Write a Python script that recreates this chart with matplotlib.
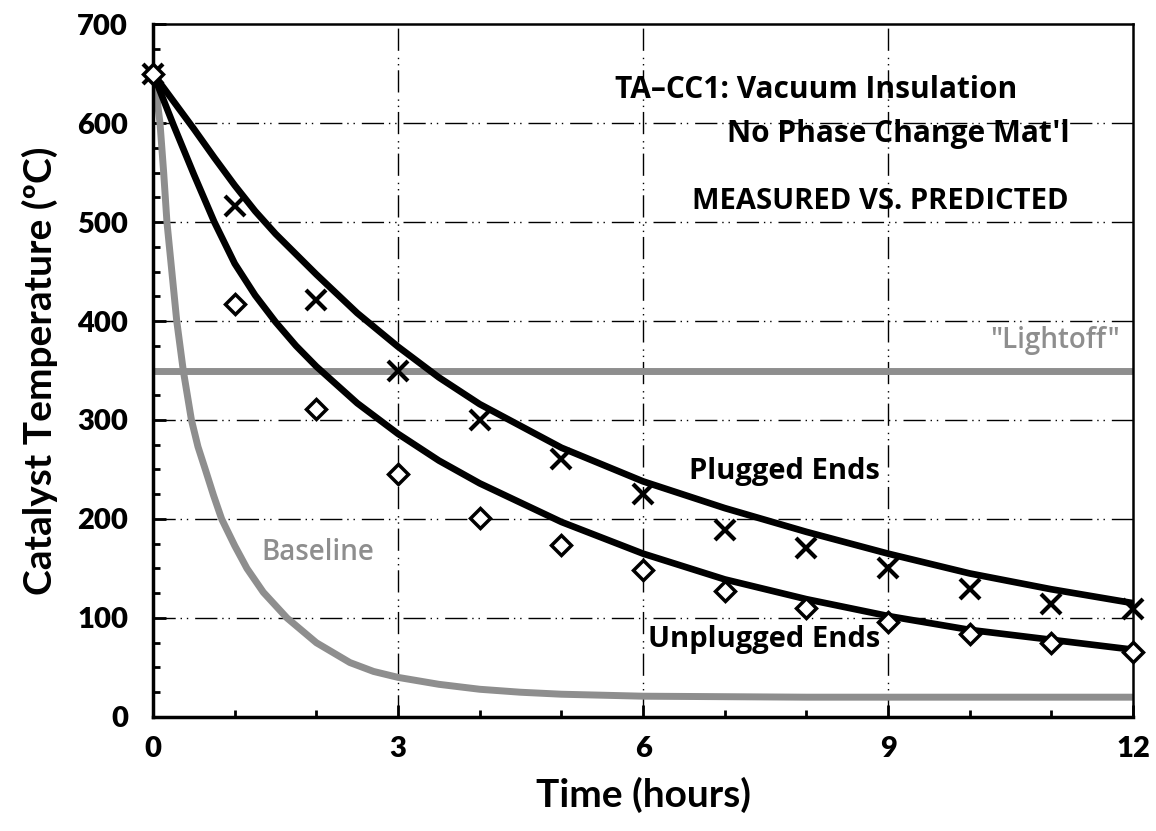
import matplotlib
matplotlib.use("Agg")
import matplotlib.pyplot as plt
from matplotlib.ticker import MultipleLocator

plt.rcParams['font.family'] = ['Lato', 'DejaVu Sans']

# measured points (hours, deg C)
hours = [0, 1, 2, 3, 4, 5, 6, 7, 8, 9, 10, 11, 12]
plugged_meas = [650, 516, 421, 350, 300, 261, 225, 189, 171, 151, 129, 114, 109]
unplugged_meas = [650, 417, 311, 245, 201, 174, 148, 127, 110, 96, 84, 75, 66]

# predicted curves
plug_t = [0, 0.25, 0.5, 0.75, 1, 1.25, 1.5, 2, 2.5, 3, 3.5, 4, 5, 6, 7, 8, 9, 10, 11, 12]
plug_pred = [650, 622, 594, 565, 537, 511, 488, 447, 408, 374, 343, 316, 272, 238, 211, 187, 165, 145, 129, 115]
unplug_t = [0, 0.25, 0.5, 0.75, 1, 1.25, 1.5, 1.75, 2, 2.5, 3, 3.5, 4, 5, 6, 7, 8, 9, 10, 11, 12]
unplug_pred = [650, 598, 548, 500, 458, 426, 399, 375, 354, 317, 286, 259, 236, 197, 165, 139, 119, 102, 88, 78, 68]
base_t = [0, 0.04, 0.085, 0.13, 0.17, 0.23, 0.29, 0.37, 0.47, 0.55, 0.64, 0.74, 0.84, 1.0, 1.15,
          1.35, 1.64, 2.0, 2.41, 2.7, 3.0, 3.5, 4, 4.5, 5, 6, 7, 8, 10, 12]
base_pred = [650, 630, 600, 550, 500, 450, 400, 350, 300, 273, 250, 224, 200, 173, 150,
             126, 100, 75, 55, 46, 40, 33, 28, 25, 23, 21, 20.5, 20, 20, 20]
lightoff = 350

gray = '#8e8e8e'
ann = ['Open Sans', 'DejaVu Sans']

fig = plt.figure(figsize=(11.56, 8.31), dpi=100)
ax = fig.add_axes([0.1324, 0.1372, 0.8478, 0.8339])

dash = (0, (16, 3.5, 1, 3.5, 1, 5))
for y in [100, 200, 300, 400, 500, 600]:
    ax.axhline(y, color='black', lw=1.0, linestyle=dash, zorder=1)
for x in [3, 6, 9]:
    ax.axvline(x, color='black', lw=1.0, linestyle=dash, zorder=1)

ax.axhline(lightoff, color=gray, lw=5, zorder=2)
ax.plot(base_t, base_pred, color=gray, lw=5, zorder=2, solid_capstyle='butt')
ax.plot(plug_t, plug_pred, color='black', lw=4.8, zorder=3)
ax.plot(unplug_t, unplug_pred, color='black', lw=4.8, zorder=3)
ax.plot(hours, plugged_meas, linestyle='none', marker='x', ms=14, mew=3,
        color='black', zorder=4, clip_on=False)
ax.plot(hours, unplugged_meas, linestyle='none', marker='D', ms=10, mew=2.5,
        mfc='white', mec='black', zorder=4, clip_on=False)

ax.text(8.12, 633, 'TA\u2013CC1: Vacuum Insulation', ha='center', va='center',
        fontsize=21.5, fontweight='bold', family=ann)
ax.text(9.12, 589, "No Phase Change Mat'l", ha='center', va='center',
        fontsize=21.5, fontweight='bold', family=ann)
ax.text(8.9, 521, 'MEASURED VS. PREDICTED', ha='center', va='center',
        fontsize=21, fontweight='bold', family=ann)
ax.text(11.84, 380, '"Lightoff"', ha='right', va='center', fontsize=20, color=gray,
        family=ann, fontweight='semibold')
ax.text(8.9, 248, 'Plugged Ends', ha='right', va='center', fontsize=21,
        fontweight='bold', family=ann)
ax.text(8.9, 78, 'Unplugged Ends', ha='right', va='center', fontsize=21,
        fontweight='bold', family=ann)
ax.text(2.02, 166, 'Baseline', ha='center', va='center', fontsize=20, color=gray,
        family=ann, fontweight='semibold')

ax.set_xlim(0, 12)
ax.set_ylim(0, 700)
ax.set_xticks([0, 3, 6, 9, 12])
ax.set_yticks(range(0, 701, 100))
ax.xaxis.set_minor_locator(MultipleLocator(1))
ax.yaxis.set_minor_locator(MultipleLocator(25))
ax.tick_params(which='both', direction='in', width=2, top=False, right=False)
ax.tick_params(which='major', length=9)
ax.tick_params(which='minor', length=5)
ax.tick_params(axis='x', pad=14, labelsize=21)
ax.tick_params(axis='y', pad=18, labelsize=21)
for lab in ax.get_xticklabels() + ax.get_yticklabels():
    lab.set_fontweight('heavy')

ax.spines['left'].set_linewidth(2.5)
ax.spines['bottom'].set_linewidth(2.5)
ax.spines['top'].set_linewidth(1.8)
ax.spines['right'].set_linewidth(1.8)

ax.set_xlabel('Time (hours)', fontsize=28, fontweight='bold', labelpad=10)
ax.set_ylabel('Catalyst Temperature (\u00baC)', fontsize=28, fontweight='bold', labelpad=14)

fig.savefig('out.png', dpi=100)
